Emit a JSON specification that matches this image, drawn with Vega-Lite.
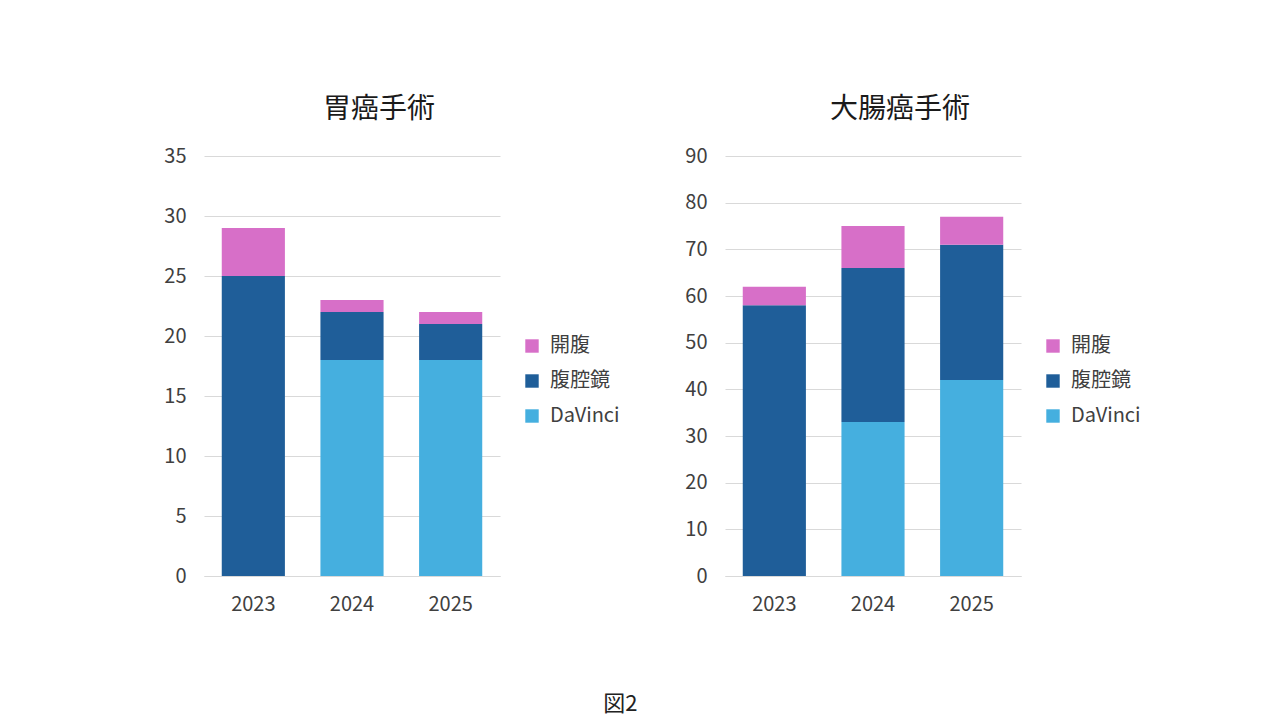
{
  "$schema": "https://vega.github.io/schema/vega-lite/v6.json",
  "background": "white",
  "padding": {"left": 163, "top": 96, "right": 10, "bottom": 10},
  "title": {
    "text": "図2",
    "orient": "bottom",
    "anchor": "middle",
    "fontSize": 22,
    "fontWeight": "normal",
    "font": "Noto Sans CJK JP",
    "color": "#222222",
    "offset": 80,
    "dx": -32
  },
  "datasets": {
    "surgery": [
      {"chart": "胃癌手術", "year": "2023", "method": "DaVinci", "count": 0},
      {"chart": "胃癌手術", "year": "2023", "method": "腹腔鏡", "count": 25},
      {"chart": "胃癌手術", "year": "2023", "method": "開腹", "count": 4},
      {"chart": "胃癌手術", "year": "2024", "method": "DaVinci", "count": 18},
      {"chart": "胃癌手術", "year": "2024", "method": "腹腔鏡", "count": 4},
      {"chart": "胃癌手術", "year": "2024", "method": "開腹", "count": 1},
      {"chart": "胃癌手術", "year": "2025", "method": "DaVinci", "count": 18},
      {"chart": "胃癌手術", "year": "2025", "method": "腹腔鏡", "count": 3},
      {"chart": "胃癌手術", "year": "2025", "method": "開腹", "count": 1},
      {"chart": "大腸癌手術", "year": "2023", "method": "DaVinci", "count": 0},
      {"chart": "大腸癌手術", "year": "2023", "method": "腹腔鏡", "count": 58},
      {"chart": "大腸癌手術", "year": "2023", "method": "開腹", "count": 4},
      {"chart": "大腸癌手術", "year": "2024", "method": "DaVinci", "count": 33},
      {"chart": "大腸癌手術", "year": "2024", "method": "腹腔鏡", "count": 33},
      {"chart": "大腸癌手術", "year": "2024", "method": "開腹", "count": 9},
      {"chart": "大腸癌手術", "year": "2025", "method": "DaVinci", "count": 42},
      {"chart": "大腸癌手術", "year": "2025", "method": "腹腔鏡", "count": 29},
      {"chart": "大腸癌手術", "year": "2025", "method": "開腹", "count": 6}
    ]
  },
  "data": {"name": "surgery"},
  "spacing": 64,
  "resolve": {"scale": {"y": "independent"}, "legend": {"color": "independent"}},
  "hconcat": [
    {
      "title": {"text": "胃癌手術", "dx": 27},
      "width": 296,
      "height": 420,
      "transform": [{"filter": "datum.chart == '胃癌手術'"}],
      "mark": {"type": "bar"},
      "encoding": {
        "x": {"field": "year", "type": "ordinal", "title": null,
              "scale": {"paddingInner": 0.36, "paddingOuter": 0.18}},
        "y": {"field": "count", "type": "quantitative", "title": null,
              "scale": {"domain": [0, 35]}, "axis": {"values": [0, 5, 10, 15, 20, 25, 30, 35]}},
        "color": {"field": "method", "type": "nominal", "title": null,
                  "scale": {"domain": ["開腹", "腹腔鏡", "DaVinci"], "range": ["#D76FC8", "#1F5E99", "#45AFDF"]}},
        "order": {"field": "method", "sort": "ascending"}
      }
    },
    {
      "title": {"text": "大腸癌手術", "dx": 27},
      "width": 296,
      "height": 420,
      "transform": [{"filter": "datum.chart == '大腸癌手術'"}],
      "mark": {"type": "bar"},
      "encoding": {
        "x": {"field": "year", "type": "ordinal", "title": null,
              "scale": {"paddingInner": 0.36, "paddingOuter": 0.18}},
        "y": {"field": "count", "type": "quantitative", "title": null,
              "scale": {"domain": [0, 90]}, "axis": {"values": [0, 10, 20, 30, 40, 50, 60, 70, 80, 90]}},
        "color": {"field": "method", "type": "nominal", "title": null,
                  "scale": {"domain": ["開腹", "腹腔鏡", "DaVinci"], "range": ["#D76FC8", "#1F5E99", "#45AFDF"]}},
        "order": {"field": "method", "sort": "ascending"}
      }
    }
  ],
  "config": {
    "font": "Noto Sans CJK JP",
    "view": {"stroke": null},
    "title": {"fontSize": 28, "fontWeight": "normal", "color": "#1a1a1a", "offset": 22, "anchor": "middle"},
    "axis": {
      "labelFont": "Noto Sans CJK JP",
      "labelFontSize": 20,
      "labelColor": "#404040",
      "ticks": false,
      "domain": false,
      "gridColor": "#D9D9D9",
      "labelPadding": 18
    },
    "axisX": {"labelAngle": 0, "grid": false, "domain": true, "domainColor": "#D9D9D9"},
    "axisY": {"grid": true},
    "legend": {
      "orient": "none",
      "legendX": 318,
      "legendY": 180,
      "labelFont": "Noto Sans CJK JP",
      "labelFontSize": 20,
      "labelColor": "#404040",
      "symbolType": "square",
      "symbolSize": 180,
      "symbolStrokeWidth": 0,
      "rowPadding": 15,
      "labelOffset": 8
    }
  }
}
